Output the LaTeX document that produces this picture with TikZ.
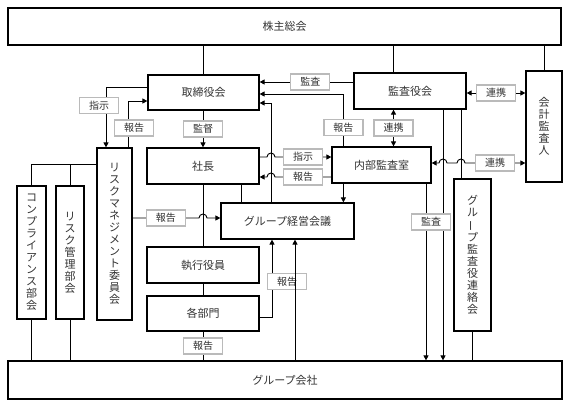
\documentclass[tikz,border=0pt]{standalone}
\usepackage{fontspec}
\newfontfamily\cjk{Noto Sans CJK JP}
\usetikzlibrary{arrows.meta,calc}
\tikzset{
	box/.style={draw, line width=1.2pt, fill=white, text=black!80, font=\cjk\fontsize{11}{12}\selectfont, inner sep=0pt},
	tate/.style={box, align=center},
	lab/.style={draw=black!27, line width=1.4pt, fill=white, text=black!80, font=\cjk\fontsize{10}{11}\selectfont, minimum width=39pt, minimum height=16pt, inner sep=0pt},
	conn/.style={line width=0.9pt},
	arr/.style={conn, -{Triangle[length=5pt,width=5pt]}},
	arrs/.style={conn, {Triangle[length=5pt,width=5pt]}-{Triangle[length=5pt,width=5pt]}}
}
\newcommand{\tatebar}{\rotatebox[origin=c]{90}{ー}}

\begin{document}
\begin{tikzpicture}[x=1pt,y=-1pt]
			%%%%% START %%%%%
			\useasboundingbox (0,0) rectangle (569,402);
			
			\node[box, minimum width=553pt, minimum height=37pt] (kabu) at (284.5,26.5) {株主総会};
			\node[box, minimum width=111pt, minimum height=35pt] (torishimari) at (203.5,92.5) {取締役会};
			\node[box, minimum width=112pt, minimum height=36pt] (kansayaku) at (410,91) {監査役会};
			\node[tate, minimum width=36pt, minimum height=111pt] (kaikei) at (544,126.5) {会\\計\\監\\査\\人};
			\node[box, minimum width=112pt, minimum height=36pt] (shacho) at (203,166) {社長};
			\node[box, minimum width=99pt, minimum height=36pt] (naibu) at (381.5,165) {内部監査室};
			\node[box, minimum width=133pt, minimum height=36pt] (keiei) at (287.5,221) {グループ経営会議};
			\node[box, minimum width=112pt, minimum height=36pt] (shikko) at (203,265) {執行役員};
			\node[box, minimum width=112pt, minimum height=35pt] (bumon) at (203,313.5) {各部門};
			\node[tate, minimum width=35pt, minimum height=172pt] (rmc) at (114.5,234) {リ\\ス\\ク\\マ\\ネ\\ジ\\メ\\ン\\ト\\委\\員\\会};
			\node[tate, minimum width=29pt, minimum height=133pt] (comp) at (31.5,252.5) {コ\\ン\\プ\\ラ\\イ\\ア\\ン\\ス\\部\\会};
			\node[tate, minimum width=28pt, minimum height=133pt] (riskb) at (70,252.5) {リ\\ス\\ク\\管\\理\\部\\会};
			\node[tate, minimum width=37pt, minimum height=152pt] (renraku) at (472.5,255) {グ\\ル\\\tatebar\\プ\\監\\査\\役\\連\\絡\\会};
			\node[box, minimum width=554pt, minimum height=38pt] (kaisha) at (285,380) {グループ会社};
			
			% helper points
			\coordinate (kx) at ([xshift=-16.5pt]kansayaku.north);
			\coordinate (a1) at ([yshift=-2pt]kansayaku.east);
			\coordinate (a3) at ([yshift=9pt]kansayaku.west);
			\coordinate (a4) at ([xshift=12pt]naibu.north west);
			\coordinate (a5) at ([xshift=-16.5pt]keiei.north);
			\coordinate (a6) at ([yshift=9pt]shacho.east);
			\coordinate (a7) at ([yshift=-12pt]naibu.west);
			\coordinate (a8) at ([yshift=3pt]keiei.west);
			\coordinate (a9) at ([yshift=70pt]rmc.west);
			\coordinate (a10) at ([xshift=33pt]kansayaku.south);
			\coordinate (a11) at ([xshift=44.5pt]naibu.south);
			\coordinate (a12) at ([xshift=51pt]kansayaku.south);
			\coordinate (a13) at ([yshift=2pt]naibu.east);
			\coordinate (a14) at ([xshift=38pt]shacho.south);
			\coordinate (a15) at ([xshift=7.5pt]keiei.south);
			
			% top
			\draw[conn] (kabu.south -| torishimari.north) -- (torishimari.north);
			\draw[conn] (kabu.south -| kx) -- (kx);
			\draw[conn] (kabu.south -| kaikei.north) -- (kaikei.north);
			
			\draw[arrs] (a1) -- node[lab] (l1) {連携} (a1 -| kaikei.west);
			\draw[arrs] (kansayaku.south -| kx) -- node[lab] (l2) {連携} (naibu.north -| kx);
			\draw[arr] (a3) -- node[lab, pos=0.46] (l3) {監査} (a3 -| torishimari.east);
			\draw[arr] (a4) |- node[lab, pos=0.18] (l4) {報告} ([yshift=-1.5pt]torishimari.east);
			\draw[arr] (a5) |- ([yshift=-10.5pt]torishimari.east);
			\draw[arr] (torishimari.south -| shacho.north) -- node[lab] (l5) {監督} (shacho.north);
			
			% shacho <-> naibu
			\draw[arr] (a6) -- ($(a6 -| a5)+(-4pt,0pt)$) arc (180:0:4pt) -- node[lab] (l6) {指示} (a6 -| naibu.west);
			\draw[arr] (a7) -- node[lab] (l7) {報告} ($(a7 -| a5)+(4pt,0pt)$) arc (0:180:4pt) -- (a7 -| shacho.east);
			\draw[arr] (a4 |- naibu.south) -- (a4 |- keiei.north);
			
			% middle column
			\draw[conn] (a14) -- (a14 |- keiei.north);
			\draw[conn] (shacho.south) -- (shikko.north);
			\draw[conn] (shikko.south) -- (bumon.north);
			\draw[conn] (bumon.south) -- node[lab] (l8) {報告} (bumon.south |- kaisha.north);
			\draw[arr] ([yshift=-3.5pt]bumon.east) -| node[lab, pos=0.73, xshift=15pt] (l12) {報告} ([xshift=-15.5pt]keiei.south);
			\draw[arr] (a15 |- kaisha.north) -- (a15);
			
			% risk side
			\draw[arr] (a8 -| rmc.east) -- node[lab] (l9) {報告} ($(a8 -| shacho.south)+(-4pt,0pt)$) arc (180:0:4pt) -- (a8);
			\draw[conn] (a9) -| (comp.north);
			\draw[conn] (a9 -| riskb.north) -- (riskb.north);
			\draw[conn] (comp.south) -- (comp.south |- kaisha.north);
			\draw[conn] (riskb.south) -- (riskb.south |- kaisha.north);
			\draw[arr] ([yshift=5.5pt]torishimari.west) -| node[lab, pos=0.655, xshift=-7pt] (l10) {指示} ([xshift=-8.5pt]rmc.north);
			\draw[arr] ([xshift=13.5pt]rmc.north) |- node[lab, pos=0.21, xshift=6pt] (l11) {報告} ([yshift=-8.5pt]torishimari.west);
			
			% audit side
			\draw[arr] (a10) -- (a10 |- kaisha.north);
			\draw[arr] (a11) -- (a11 |- kaisha.north);
			\draw[conn] (a12) -- (a12 |- renraku.north);
			\draw[conn] (renraku.south) -- (renraku.south |- kaisha.north);
			\node[lab] (l13) at (431,222) {監査};
			\draw[arrs] (a13) -- ($(a13 -| a10)+(-4pt,0pt)$) arc (180:0:4pt) -- ($(a13 -| a12)+(-4pt,0pt)$) arc (180:0:4pt) -- node[lab] (l14) {連携} (a13 -| kaikei.west);
			
			%%%%% END %%%%%
\end{tikzpicture}
\end{document}
